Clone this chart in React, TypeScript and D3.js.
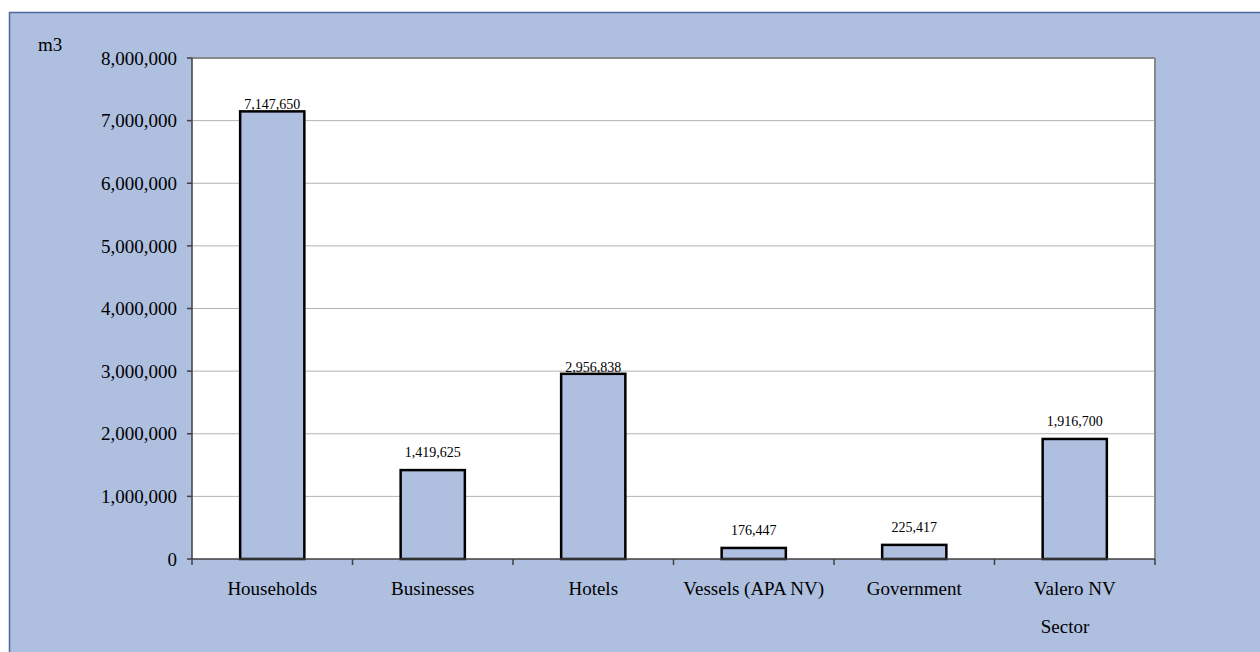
import React from "react";
import * as d3 from "d3";

const categories = ["Households", "Businesses", "Hotels", "Vessels (APA NV)", "Government", "Valero NV"];
const values = [7147650, 1419625, 2956838, 176447, 225417, 1916700];
const yTicks = [0, 1000000, 2000000, 3000000, 4000000, 5000000, 6000000, 7000000, 8000000];
const yUnit = "m3";
const xTitle = "Sector";

const W = 1260;
const H = 652;
const bg = "#AEBFE0";
const font = '"Liberation Serif", "Times New Roman", "DejaVu Serif", serif';

export default function App() {
  const left = 192, right = 1155, top = 58, bottom = 559;
  const x = d3.scaleBand<string>().domain(categories).range([left, right]).paddingInner(0.6).paddingOuter(0.3);
  const xb = d3.scaleBand<string>().domain(categories).range([left, right]);
  const y = d3.scaleLinear().domain([0, 8000000]).range([bottom, top]);
  const fmt = d3.format(",");
  const gridYs = yTicks.map((t) => y(t));
  const ts = { fontFamily: font };
  return (
    <svg width={W} height={H} style={{ position: "absolute", left: 0, top: 0, fontFamily: font }}>
      <rect x={0} y={0} width={W} height={H} fill="#fff" />
      <rect x={9.5} y={12.5} width={W + 10} height={H + 10} fill={bg} stroke="#4E6A9C" strokeWidth={1.5} />
      <rect x={left} y={top} width={right - left} height={bottom - top} fill="#fff" />
      {yTicks.slice(1, -1).map((t) => (
        <line key={t} x1={left} x2={right} y1={y(t)} y2={y(t)} stroke="#B3B3B3" strokeWidth={1} />
      ))}
      <line x1={left} x2={right} y1={top} y2={top} stroke="#888" strokeWidth={2} />
      <line x1={right} x2={right} y1={top} y2={bottom} stroke="#888" strokeWidth={2} />
      {categories.map((c, i) => {
        const v = values[i];
        const bx = x(c)!;
        const bw = x.bandwidth();
        const yt = y(v);
        // labels of tall bars whose top sits close to a grid line are drawn flush on the bar
        const nearest = d3.min(gridYs, (g) => Math.abs(g - yt))!;
        const flush = nearest < 10 && yt < 400;
        const ly = flush ? yt - 2 : yt - 13;
        return (
          <g key={c}>
            <rect x={bx} y={yt} width={bw} height={bottom - yt} fill={bg} stroke="#000" strokeWidth={2.5} />
            <text x={bx + bw / 2} y={ly} textAnchor="middle" fontSize={14} fill="#000" style={ts}>
              {fmt(v)}
            </text>
          </g>
        );
      })}
      <line x1={left} x2={left} y1={top} y2={bottom} stroke="#404040" strokeWidth={1.5} />
      <line x1={left} x2={right} y1={bottom} y2={bottom} stroke="#404040" strokeWidth={1.5} />
      {yTicks.map((t) => (
        <g key={t}>
          <line x1={left - 5} x2={left} y1={y(t)} y2={y(t)} stroke="#404040" strokeWidth={1.5} />
          <text x={left - 15} y={y(t)} dy="0.35em" textAnchor="end" fontSize={19} fill="#000" style={ts}>
            {fmt(t)}
          </text>
        </g>
      ))}
      {categories.map((c) => (
        <line key={c} x1={xb(c)!} x2={xb(c)!} y1={bottom} y2={bottom + 6} stroke="#404040" strokeWidth={1.5} />
      ))}
      <line x1={right} x2={right} y1={bottom} y2={bottom + 6} stroke="#404040" strokeWidth={1.5} />
      {categories.map((c) => (
        <text key={c} x={xb(c)! + xb.bandwidth() / 2} y={595} textAnchor="middle" fontSize={19} fill="#000" style={ts}>
          {c}
        </text>
      ))}
      <text x={1065} y={633} textAnchor="middle" fontSize={19} fill="#000" style={ts}>{xTitle}</text>
      <text x={38} y={51} fontSize={19} fill="#000" style={ts}>{yUnit}</text>
    </svg>
  );
}
